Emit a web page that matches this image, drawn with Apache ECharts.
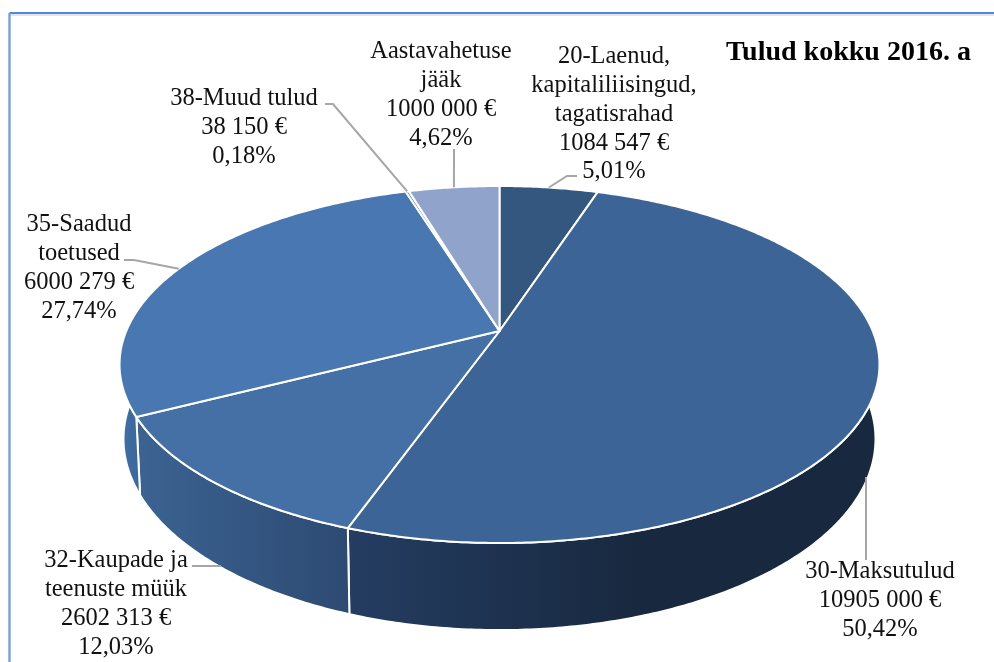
<!DOCTYPE html>
<html><head><meta charset="utf-8">
<script src="https://cdn.jsdelivr.net/npm/echarts@6/dist/echarts.min.js"></script>
<style>html,body{margin:0;padding:0;background:#fff}#c{width:994px;height:662px}</style>
</head><body><div id="c"></div>
<script>
// Data (clockwise from 12 o'clock)
const categories = ['20-Laenud,\nkapitaliliisingud,\ntagatisrahad', '30-Maksutulud', '32-Kaupade ja\nteenuste müük', '35-Saadud\ntoetused', '38-Muud tulud', 'Aastavahetuse\njääk'];
const values = [1084547, 10905000, 2602313, 6000279, 38150, 1000000];
const valueLabels = ['1084 547 €', '10905 000 €', '2602 313 €', '6000 279 €', '38 150 €', '1000 000 €'];
const percentLabels = ['5,01%', '50,42%', '12,03%', '27,74%', '0,18%', '4,62%'];
const titleText = 'Tulud kokku 2016. a';

// Styling / layout
const topColors = ['#33577f', '#3d6496', '#4570a6', '#4877b1', '#6f97c8', '#8fa3cb'];
const wallStops = [['#2f5078','#2f5078'], ['#243d61','#18283f'], ['#3b6291','#2d4a72'], ['#3f6fa8','#3a6597'], ['#3f6fa8','#3f6fa8'], ['#3f6fa8','#3f6fa8']];
const wallRange = [[500,600], [350,640], [145,350], [120,146], [120,146], [120,146]];
const labelCenter = [[614,57], [880,572], [116,561], [79,225], [244,99], [441,52]];
const leaderPaths = [[[577,176],[567,176]], [[866,560],[866,477]], [[192,566],[221,566]], [[124,260],[134,260]], [[325,104],[333,104]], [[454,149]]];
const leaderToSlice = [true, false, false, true, true, true];
const FONT = '"Liberation Serif", "Times New Roman", serif';
const FS = 24.5, LH = 28.7;
const CX = 499.5, K = 0.1877;
const TOP = {b: 373.2, a: 172.2, y0: 331};
const LOW = {b: 369.3, a: 184.3, y0: 403.2};

const total = values.reduce((s, v) => s + v, 0);
let acc = 0;
const spans = values.map(v => { const s = acc; acc += v; return [s / total * 2 * Math.PI, acc / total * 2 * Math.PI]; });

// Perspective projection of a disc point at clockwise angle t
function proj(t, d) {
  const u = Math.sin(t), v = Math.cos(t), den = 1 + K * v;
  return [CX + d.b * u / den, d.y0 - d.a * v / den];
}
function arc(s, e, d) {
  const n = Math.max(2, Math.ceil((e - s) / 0.01)), pts = [];
  for (let i = 0; i <= n; i++) pts.push(proj(s + (e - s) * i / n, d));
  return pts;
}

const seriesData = values.map(v => [v]);
const chart = echarts.init(document.getElementById('c'), null, {renderer: 'canvas'});
chart.setOption({
  backgroundColor: '#fff',
  animation: false,
  title: {text: titleText, left: 726, top: 39, textStyle: {fontFamily: FONT, fontSize: 28, fontWeight: 'bold', color: '#000'}, padding: 0},
  graphic: [
    {type: 'line', z: 0, shape: {x1: 9, y1: 15, x2: 994, y2: 15}, style: {stroke: '#dcdcdc', lineWidth: 1.5}},
    {type: 'line', z: 1, shape: {x1: 9.5, y1: 13, x2: 994, y2: 13}, style: {stroke: '#4f8ae0', lineWidth: 2}},
    {type: 'line', z: 1, shape: {x1: 9.5, y1: 13, x2: 9.5, y2: 662}, style: {stroke: '#6ea2e8', lineWidth: 2.4}}
  ],
  series: [
    { // side walls
      type: 'custom', coordinateSystem: 'none', silent: true, z: 2, data: seriesData,
      renderItem(p) {
        const i = p.dataIndex, [s, e] = spans[i];
        const pts = arc(s, e, TOP).concat(arc(s, e, LOW).reverse());
        return {type: 'polygon', shape: {points: pts}, style: {
          fill: new echarts.graphic.LinearGradient(wallRange[i][0], 0, wallRange[i][1], 0,
            [{offset: 0, color: wallStops[i][0]}, {offset: 1, color: wallStops[i][1]}], true),
          stroke: '#fff', lineWidth: 2, lineJoin: 'round'}};
      }
    },
    { // top faces
      type: 'custom', coordinateSystem: 'none', silent: true, z: 3, data: seriesData,
      renderItem(p) {
        const i = p.dataIndex, [s, e] = spans[i];
        const pts = [[CX, TOP.y0]].concat(arc(s, e, TOP));
        return {type: 'polygon', shape: {points: pts}, style: {fill: topColors[i], stroke: '#fff', lineWidth: 2, lineJoin: 'round'}};
      }
    },
    { // leaders + labels
      type: 'custom', coordinateSystem: 'none', silent: true, z: 4, data: seriesData,
      renderItem(p) {
        const i = p.dataIndex, [s, e] = spans[i], m = (s + e) / 2;
        const pl = leaderToSlice[i] ? leaderPaths[i].concat([proj(m, TOP)]) : leaderPaths[i];
        const lines = categories[i].split('\n').concat([valueLabels[i], percentLabels[i]]);
        const children = [{type: 'polyline', shape: {points: pl}, style: {stroke: '#a6a6a6', lineWidth: 2, fill: null}}];
        lines.forEach((t, k) => children.push({type: 'text', style: {
          x: labelCenter[i][0], y: labelCenter[i][1] + k * LH, text: t, fill: '#111',
          font: FS + 'px ' + FONT, textAlign: 'center', textVerticalAlign: 'middle'}}));
        return {type: 'group', children};
      }
    }
  ]
});
</script></body></html>
